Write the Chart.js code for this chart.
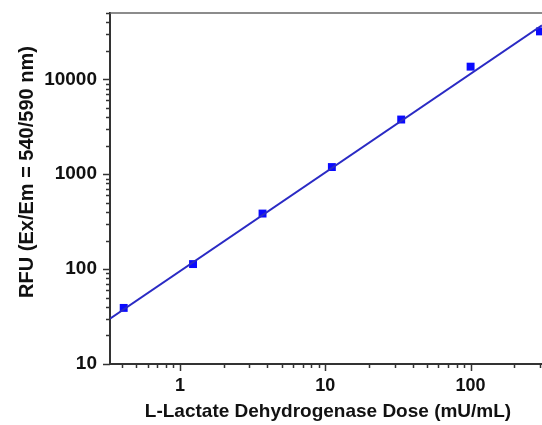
<!DOCTYPE html>
<html>
<head>
<meta charset="utf-8">
<script src="https://cdn.jsdelivr.net/npm/chart.js@4"></script>
<style>
  html, body { margin: 0; padding: 0; background: #fff; overflow: hidden; }
  #chart { display: block; }
</style>
</head>
<body>
<canvas id="chart" width="542" height="425"></canvas>
<script>
// data
const doses = [0.41, 1.23, 3.7, 11.1, 33.3, 100, 300];
const rfu = [39, 113, 385, 1190, 3770, 13600, 32000];

// fitted line end points
const fitDose = [0.33, 310];
const fitRfu = [30, 37000];

const xTitle = "L-Lactate Dehydrogenase Dose (mU/mL)";
const yTitle = "RFU (Ex/Em = 540/590 nm)";

const FONT = "'Liberation Sans', Arial, sans-serif";
const AXIS_COLOR = "#333";

function isDecade(v) {
    const l = Math.log10(v);
    return Math.abs(l - Math.round(l)) < 1e-6;
}

// tick marks (long at decades, short between) + top frame + axis titles
const decorations = {
    id: "decorations",
    afterDraw(chart) {
        const ctx = chart.ctx;
        const area = chart.chartArea;
        const xs = chart.scales.x;
        const ys = chart.scales.y;
        ctx.save();
        ctx.strokeStyle = AXIS_COLOR;
        ctx.lineWidth = 1.5;

        for (let e = -1; e <= 2; e++) {
            for (let m = 1; m <= 9; m++) {
                const v = m * Math.pow(10, e);
                if (v <= xs.min || v > xs.max) continue;
                const px = Math.round(xs.getPixelForValue(v)) + 0.5;
                const len = m === 1 ? 7 : 4;
                ctx.beginPath();
                ctx.moveTo(px, area.bottom);
                ctx.lineTo(px, area.bottom + len);
                ctx.stroke();
            }
        }
        for (let e = 1; e <= 4; e++) {
            for (let m = 1; m <= 9; m++) {
                const v = m * Math.pow(10, e);
                if (v < ys.min || v > ys.max) continue;
                const py = Math.round(ys.getPixelForValue(v)) + 0.5;
                const len = m === 1 ? 7 : 4;
                ctx.beginPath();
                ctx.moveTo(area.left, py);
                ctx.lineTo(area.left - len, py);
                ctx.stroke();
            }
        }

        // top frame line
        ctx.strokeStyle = "#666";
        ctx.lineWidth = 1.5;
        ctx.beginPath();
        ctx.moveTo(area.left, area.top);
        ctx.lineTo(chart.width, area.top);
        ctx.stroke();

        // axis titles
        ctx.fillStyle = "#111";
        ctx.textAlign = "center";
        ctx.textBaseline = "alphabetic";
        ctx.font = "bold 19px " + FONT;
        ctx.fillText(xTitle, 328, 417);

        ctx.font = "bold 20px " + FONT;
        ctx.translate(33, 172);
        ctx.rotate(-Math.PI / 2);
        ctx.fillText(yTitle, 0, 0);
        ctx.restore();
    }
};

// drop the label-overflow padding so the plot area fills the canvas edges
function noPadding(scale) {
    scale.paddingTop = 0;
    scale.paddingRight = 0;
    scale.paddingBottom = 0;
    scale.paddingLeft = 0;
}

const chart = new Chart(document.getElementById("chart"), {
    type: "scatter",
    data: {
        datasets: [
            {
                label: "fit",
                data: fitDose.map((d, i) => ({ x: d, y: fitRfu[i] })),
                showLine: true,
                borderColor: "#2a2ac4",
                borderWidth: 2,
                pointRadius: 0,
                fill: false,
            },
            {
                label: "RFU",
                data: doses.map((d, i) => ({ x: d, y: rfu[i] })),
                showLine: false,
                pointStyle: "rect",
                pointRadius: 5.6,
                backgroundColor: "#0a0aff",
                borderColor: "#0a0aff",
                borderWidth: 0,
                clip: false,
            },
        ],
    },
    options: {
        responsive: false,
        animation: false,
        devicePixelRatio: 1,
        layout: { autoPadding: false, padding: { top: 13, right: 0, left: 0, bottom: 0 } },
        plugins: {
            legend: { display: false },
            tooltip: { enabled: false },
        },
        scales: {
            x: {
                type: "logarithmic",
                bounds: "data",
                min: 0.33,
                max: 310,
                grid: { display: true, drawOnChartArea: false, drawTicks: false },
                border: { display: true, color: AXIS_COLOR, width: 2 },
                ticks: {
                    autoSkip: false,
                    maxRotation: 0,
                    padding: 11,
                    color: "#111",
                    font: { family: FONT, size: 18, weight: "bold" },
                    callback: (v) => (isDecade(v) ? String(Math.round(v)) : ""),
                },
                afterFit: (scale) => { scale.height = 61; noPadding(scale); },
            },
            y: {
                type: "logarithmic",
                bounds: "data",
                min: 10,
                max: 50000,
                grid: { display: true, drawOnChartArea: false, drawTicks: false },
                border: { display: true, color: AXIS_COLOR, width: 2 },
                ticks: {
                    autoSkip: false,
                    padding: 13,
                    color: "#111",
                    font: { family: FONT, size: 19, weight: "bold" },
                    callback: (v) => (isDecade(v) ? String(Math.round(v)) : ""),
                },
                afterFit: (scale) => { scale.width = 110; noPadding(scale); },
            },
        },
    },
    plugins: [decorations],
});
</script>
</body>
</html>
